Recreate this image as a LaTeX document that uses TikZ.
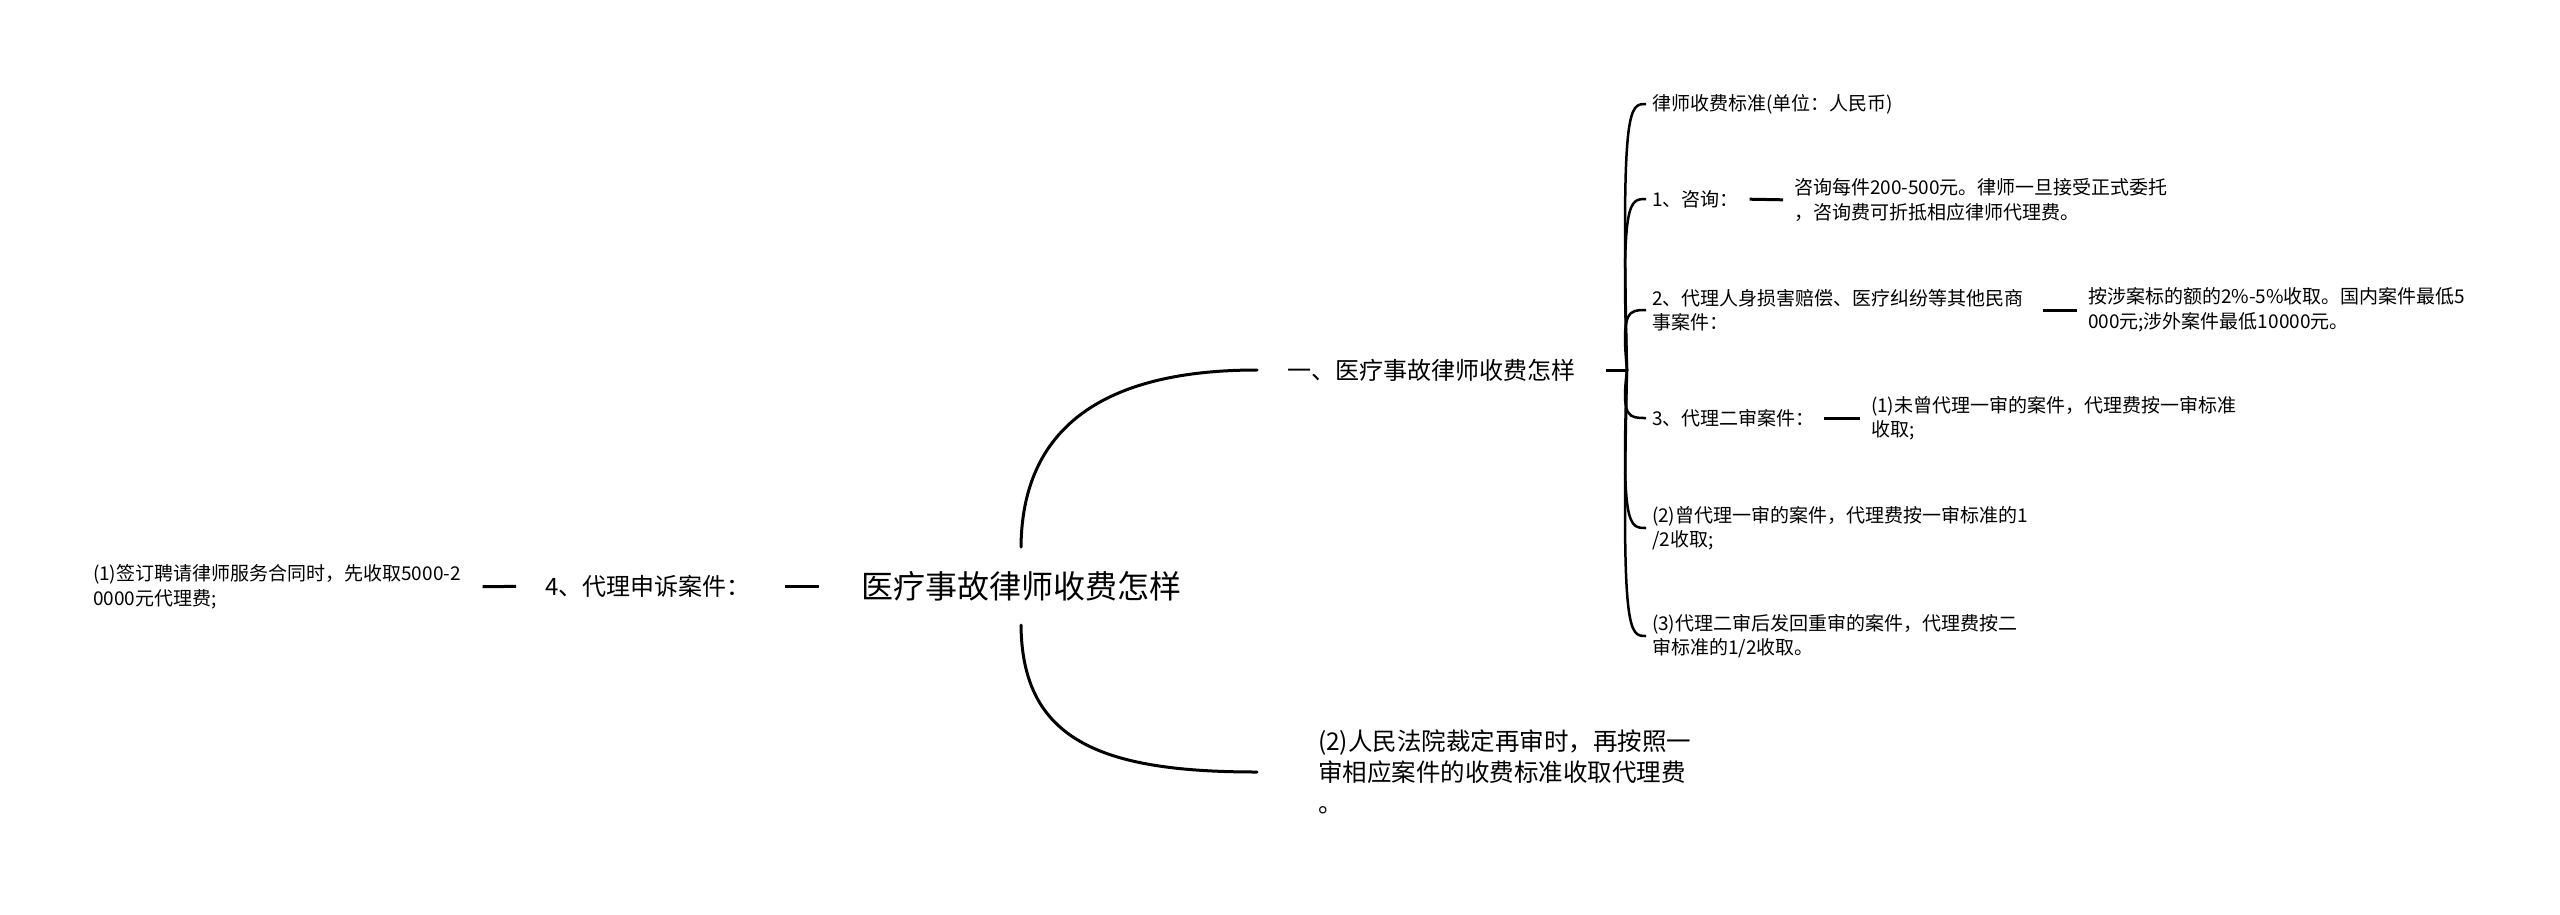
\documentclass[tikz,border=0pt]{standalone}
\usepackage{fontspec}
\newfontfamily\cjk{Noto Sans CJK SC}
\begin{document}
\begin{tikzpicture}[x=1pt,y=-1pt,
  base/.style={inner sep=0pt, outer sep=0pt, align=left, text=black},
  txtS/.style={base, anchor=west, font={\cjk\fontsize{19}{24.5}\selectfont}},
  txtM/.style={base, anchor=west, font={\cjk\fontsize{24}{30}\selectfont}},
  txtR/.style={base, anchor=center, font={\cjk\fontsize{32}{38}\selectfont}, minimum height=78pt},
  txtB/.style={base, anchor=west, font={\cjk\fontsize{24.5}{31}\selectfont}},
  conn/.style={line width=3pt, line cap=round},
  branch/.style={line width=2.5pt},
  dashln/.style={line width=3pt}
]
\useasboundingbox (0,0) rectangle (2560,914);
\fill[white] (0,0) rectangle (2560,914);

\node[txtR] (root) at (1021,586) {医疗事故律师收费怎样};
\node[txtM] (n4) at (545,586) {4、代理申诉案件：};
\node[txtS] (n4a) at (93,587) {(1)签订聘请律师服务合同时，先收取5000-2\\0000元代理费;};
\node[txtM] (nA) at (1287,370) {一、医疗事故律师收费怎样};
\coordinate (hub) at (1627,370);
\node[txtS] (c0) at (1652,104) {律师收费标准(单位：人民币)};
\node[txtS] (c1) at (1652,199) {1、咨询：};
\node[txtS] (c1a) at (1794,200) {咨询每件200-500元。律师一旦接受正式委托\\，咨询费可折抵相应律师代理费。};
\node[txtS] (c2) at (1652,310) {2、代理人身损害赔偿、医疗纠纷等其他民商\\事案件：};
\node[txtS] (c2a) at (2088,310) {按涉案标的额的2\%-5\%收取。国内案件最低5\\000元;涉外案件最低10000元。};
\node[txtS] (c3) at (1652,418) {3、代理二审案件：};
\node[txtS] (c3a) at (1871,418) {(1)未曾代理一审的案件，代理费按一审标准\\收取;};
\node[txtS] (c4) at (1652,528) {(2)曾代理一审的案件，代理费按一审标准的1\\/2收取;};
\node[txtS] (c5) at (1652,636) {(3)代理二审后发回重审的案件，代理费按二\\审标准的1/2收取。};
\node[txtB] (nB) at (1318,772) {(2)人民法院裁定再审时，再按照一\\审相应案件的收费标准收取代理费\\。};

% root curves
\draw[conn, shorten >=30pt] (root.north) .. controls (1022,430) and (1100,370) .. (nA.west);
\draw[conn, shorten >=61pt] (root.south) .. controls (1022,740) and (1100,772) .. (nB.west);

% dashes
\draw[dashln, shorten <=42pt, shorten >=35pt] (root.west) -- (n4.east);
\draw[dashln, shorten <=29pt, shorten >=22pt] (n4.west) -- (n4a.east);
\draw[dashln, shorten <=31pt] (nA.east) -- (hub);
\draw[dashln, shorten <=11pt, shorten >=11pt] (c1.east) -- (c1a.west);
\draw[dashln, shorten <=19pt, shorten >=11pt] (c2.east) -- (c2a.west);
\draw[dashln, shorten <=9pt, shorten >=11pt] (c3.east) -- (c3a.west);

% hub branches
\foreach \c/\yy in {c0/104,c1/199,c2/310,c3/418,c4/528,c5/636}{
  \draw[branch, shorten >=6pt] (hub) .. controls (1621,\yy) and (1629,\yy) .. (\c.west);
}
\end{tikzpicture}
\end{document}
